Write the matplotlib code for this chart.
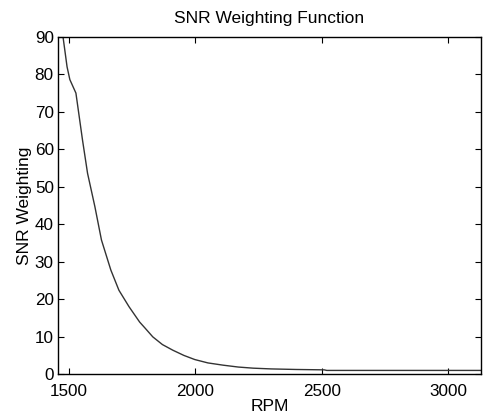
import numpy as np
import matplotlib
matplotlib.use("Agg")
import matplotlib.pyplot as plt

# values
rpm = [1477, 1484, 1493, 1504, 1528, 1554, 1574, 1603, 1629, 1666, 1698,
       1738, 1780, 1800, 1832, 1870, 1911, 1955, 1998, 2050, 2110, 2170,
       2229, 2300, 2400, 2510, 2520, 2700, 2900, 3130]
snr_weight = [90, 86.5, 82, 78.6, 75, 62.5, 53.6, 44.7, 35.8, 27.8, 22.4,
              18, 13.9, 12.4, 9.95, 7.9, 6.4, 5.0, 3.9, 3.0, 2.4, 1.9,
              1.6, 1.4, 1.25, 1.15, 1.0, 1.0, 1.0, 1.0]

plt.rcParams['font.family'] = ['Liberation Sans', 'DejaVu Sans']

fig = plt.figure(figsize=(4.83, 4.19), dpi=100)
ax = fig.add_axes([0.120, 0.107, 0.876, 0.805])

ax.plot(rpm, snr_weight, color='#333333', linewidth=1.0)

ax.set_xlim(1457, 3130)
ax.set_ylim(0, 90)
ax.set_xticks([1500, 2000, 2500, 3000])
ax.set_yticks(np.arange(0, 91, 10))
ax.tick_params(direction='in', top=True, right=True, length=4, labelsize=12.3)
ax.tick_params(axis='x', pad=7)
ax.tick_params(axis='y', pad=3)
for s in ax.spines.values():
    s.set_linewidth(1.0)

ax.set_title("SNR Weighting Function", fontsize=12.5, pad=10)
ax.set_xlabel("RPM", fontsize=12.5, labelpad=0)
ax.set_ylabel("SNR Weighting", fontsize=12.5, labelpad=2)

fig.savefig("out.png", dpi=100)
